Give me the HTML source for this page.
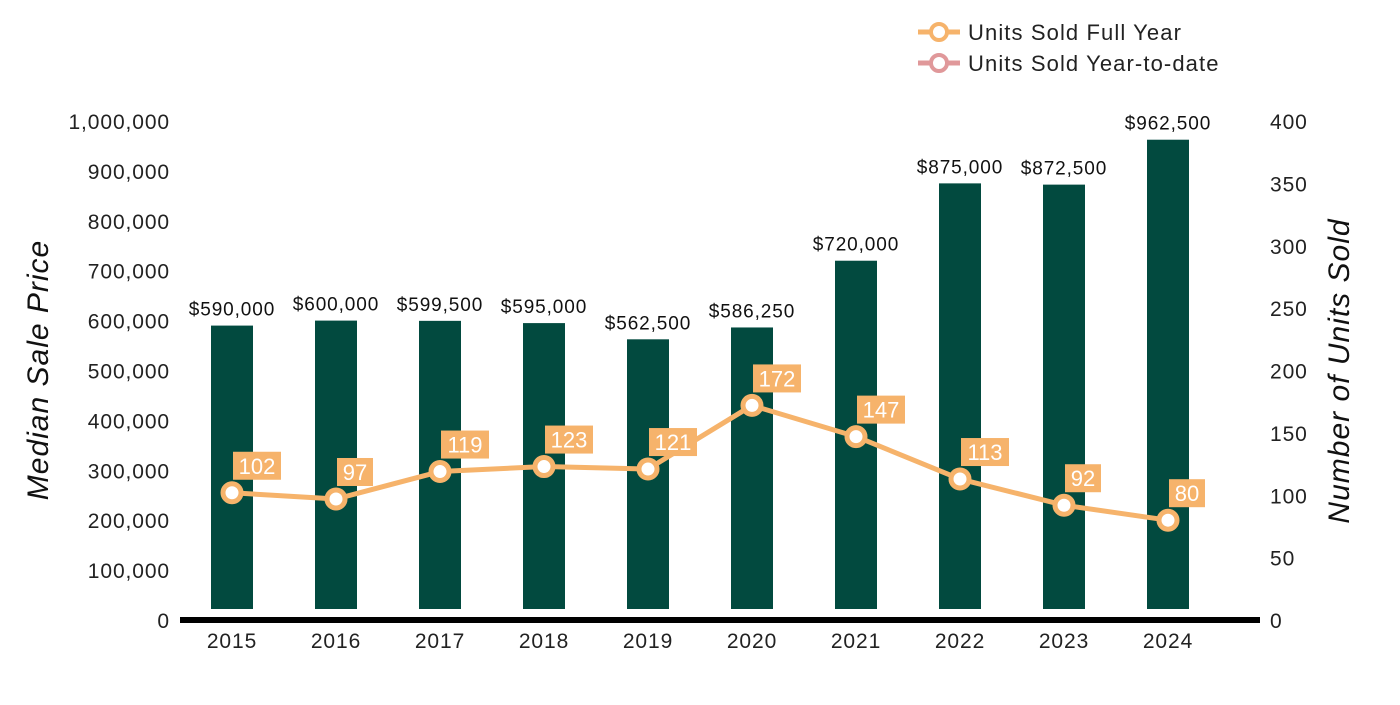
<!DOCTYPE html>
<html><head><meta charset="utf-8"><style>
body{margin:0;background:#fff}
svg text{font-family:"Liberation Sans",Arial,sans-serif}
</style></head><body>
<svg width="1400" height="700" viewBox="0 0 1400 700" id="c">
<g id="legend">
 <g>
  <line x1="918" y1="32" x2="960" y2="32" stroke="#F6B36B" stroke-width="5"/>
  <circle cx="939" cy="32" r="8" fill="#fff" stroke="#F6B36B" stroke-width="4"/>
  <text x="968" y="40" font-size="22" letter-spacing="1.1" fill="#222">Units Sold Full Year</text>
 </g>
 <g>
  <line x1="918" y1="63" x2="960" y2="63" stroke="#E0989A" stroke-width="5"/>
  <circle cx="939" cy="63" r="8" fill="#fff" stroke="#E0989A" stroke-width="4"/>
  <text x="968" y="71" font-size="22" letter-spacing="1.1" fill="#222">Units Sold Year-to-date</text>
 </g>
</g>
<text transform="translate(48,370) rotate(-90)" text-anchor="middle" font-size="30" letter-spacing="1" font-style="italic" fill="#111">Median Sale Price</text>
<text transform="translate(1349,371) rotate(-90)" text-anchor="middle" font-size="30" letter-spacing="1" font-style="italic" fill="#111">Number of Units Sold</text>
<g id="g"></g>
</svg>
<script>
const years=['2015','2016','2017','2018','2019','2020','2021','2022','2023','2024'];
const prices=[590000,600000,599500,595000,562500,586250,720000,875000,872500,962500];
const priceLabels=['$590,000','$600,000','$599,500','$595,000','$562,500','$586,250','$720,000','$875,000','$872,500','$962,500'];
const units=[102,97,119,123,121,172,147,113,92,80];
const leftTicks=[0,100000,200000,300000,400000,500000,600000,700000,800000,900000,1000000];
const rightTicks=[0,50,100,150,200,250,300,350,400];
const NS='http://www.w3.org/2000/svg';
const g=document.getElementById('g');
const y0=620,yTop=121;
const yL=v=>y0-v/1000000*(y0-yTop);
const yR=v=>y0-v/400*(y0-yTop);
const xB=i=>232+i*104;
function mk(t,a,txt){const e=document.createElementNS(NS,t);for(const k in a)e.setAttribute(k,a[k]);if(txt!=null)e.textContent=txt;g.appendChild(e);return e;}
leftTicks.forEach(v=>{const e=mk('text',{x:170,y:yL(v)+8,'text-anchor':'end','font-size':21,'letter-spacing':0.9,fill:'#222'},v.toLocaleString('en-US'));

});
rightTicks.forEach(v=>{const e=mk('text',{x:1270,y:yR(v)+8,'font-size':21,'letter-spacing':0.9,fill:'#222'},String(v));

});
years.forEach((yr,i)=>{
 const top=yL(prices[i]);
 const b=mk('rect',{x:xB(i)-21,y:top,width:42,height:Math.max(0,609-top),fill:'#024A3F'});
 
 
 const l=mk('text',{x:xB(i),y:top-10,'text-anchor':'middle','font-size':19,'letter-spacing':0.9,fill:'#111'},priceLabels[i]);
 
 
 const t=mk('text',{x:xB(i),y:648,'text-anchor':'middle','font-size':21,'letter-spacing':0.9,fill:'#222'},yr);
 
 
});
const ax=mk('rect',{x:180,y:617,width:1080,height:6,fill:'#000'});


const pts=units.map((u,i)=>xB(i)+','+yR(u)).join(' ');
const pl=mk('polyline',{points:pts,fill:'none',stroke:'#F6B36B','stroke-width':5,'stroke-linejoin':'round'});


units.forEach((u,i)=>{
 const cy=yR(u),cx=xB(i);
 const c=mk('circle',{cx:cx,cy:cy,r:9,fill:'#fff',stroke:'#F6B36B','stroke-width':5});
 
 
 const s=String(u);const w=s.length*12+12;
 const r=mk('rect',{x:cx+1,y:cy-41,width:w,height:28,fill:'#F6B36B'});
 
 
 const t=mk('text',{x:cx+1+w/2,y:cy-19,'text-anchor':'middle','font-size':22,fill:'#fff'},s);
 
 
});
</script>
</body></html>
